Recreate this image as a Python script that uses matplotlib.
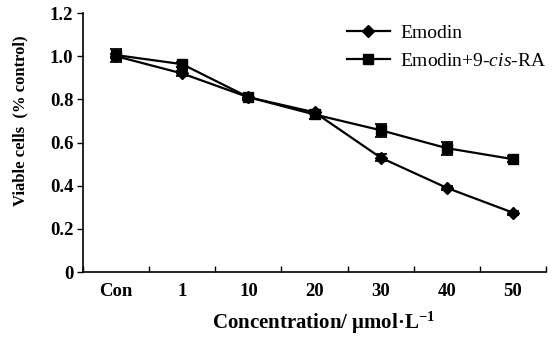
import matplotlib
matplotlib.use("Agg")
import matplotlib.pyplot as plt
import numpy as np

plt.rcParams['font.family'] = ['Liberation Serif', 'DejaVu Serif']
plt.rcParams['mathtext.fontset'] = 'custom'
plt.rcParams['mathtext.rm'] = 'Liberation Serif'
plt.rcParams['mathtext.it'] = 'Liberation Serif:italic'
plt.rcParams['mathtext.bf'] = 'Liberation Serif:bold'

categories = ["Con", "1", "10", "20", "30", "40", "50"]
emodin = [1.00, 0.92, 0.81, 0.74, 0.53, 0.39, 0.275]
emodin_err = [0.01, 0.01, 0.01, 0.01, 0.015, 0.01, 0.01]
combo = [1.005, 0.963, 0.81, 0.73, 0.657, 0.574, 0.523]
combo_err = [0.03, 0.012, 0.015, 0.02, 0.03, 0.03, 0.015]
yticks = [0, 0.2, 0.4, 0.6, 0.8, 1.0, 1.2]
ytick_labels = ["0", "0.2", "0.4", "0.6", "0.8", "1.0", "1.2"]

fig = plt.figure(figsize=(5.55, 3.38), dpi=100)
ax = fig.add_axes([0.1495, 0.195, 0.8345, 0.7665])

x = np.arange(len(categories))
ax.errorbar(x, emodin, yerr=emodin_err, fmt='none', ecolor='black', capsize=4, elinewidth=1.3, capthick=1.3)
ax.errorbar(x, combo, yerr=combo_err, fmt='none', ecolor='black', capsize=4, elinewidth=1.3, capthick=1.3)
ax.plot(x, emodin, color='black', marker='D', markersize=6.5, linewidth=1.6, label='Emodin')
ax.plot(x, combo, color='black', marker='s', markersize=7, linewidth=1.6, label='Emodin+9-$\\it{cis}$-RA')

ax.set_xlim(-0.5, len(categories) - 0.5)
ax.set_ylim(0, 1.2)
ax.set_yticks(yticks)
ax.set_yticklabels(ytick_labels, fontweight='bold', fontsize=13.5)
ax.set_xticks(x)
ax.set_xticklabels(categories, fontweight='bold', fontsize=13.5)
ax.tick_params(axis='x', which='major', length=0, pad=8)
ax.set_xticks(np.arange(-0.5, len(categories), 1.0), minor=True)
ax.tick_params(axis='x', which='minor', direction='in', length=4, width=1)
ax.tick_params(axis='y', direction='out', length=4, width=1, pad=3)

for s in ['top', 'right']:
    ax.spines[s].set_visible(False)
for s in ['left', 'bottom']:
    ax.spines[s].set_linewidth(1.2)

ax.set_ylabel('Viable cells  (% control)', fontweight='bold', fontsize=12)
ax.yaxis.set_label_coords(-0.118, 0.583)
ax.set_xlabel('Concentration/ \u03bcmol\u00b7L$^{\\mathbf{-1}}$', fontweight='bold', fontsize=15)
ax.xaxis.set_label_coords(0.52, -0.145)

leg = fig.legend(loc='upper left', bbox_to_anchor=(347/555, (338-24)/338), frameon=False, fontsize=14,
                 handlelength=2.2, handletextpad=0.55, labelspacing=0.55, borderpad=0, borderaxespad=0)

fig.savefig('out.png', dpi=100)
